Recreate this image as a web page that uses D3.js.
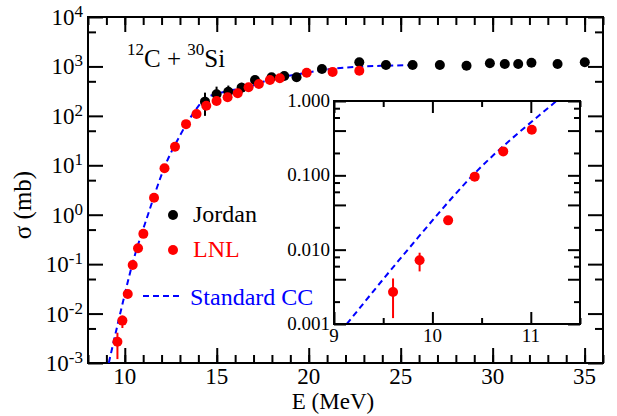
<!DOCTYPE html>
<html>
<head>
<meta charset="utf-8">
<script src="https://cdn.jsdelivr.net/npm/d3@7"></script>
<style>
  body { margin: 0; background: #fff; }
  text { font-family: "Liberation Serif", "Times New Roman", serif; }
</style>
</head>
<body>
<div id="chart"></div>
<script>
// ---- data ----
var jordanE = [14.36, 14.99, 15.63, 16.35, 17.08, 17.98, 18.67, 19.34, 20.72, 22.75,
               24.2, 25.65, 27.13, 28.58, 29.85, 30.66, 31.39, 32.11, 33.53, 35.01];
var jordanSigma = [194, 273, 308, 372, 531, 604, 640, 604, 887, 1211,
                   1070, 1070, 1070, 1035, 1156, 1120, 1120, 1190, 1120, 1210];
var jordanLo = [100, 175, 225, 290, null, null, null, null, null, null,
                null, null, null, null, null, null, null, null, null, null];
var jordanHi = [295, 390, 410, 470, null, null, null, null, null, null,
                null, null, null, null, null, null, null, null, null, null];

var lnlE = [9.6, 9.87, 10.16, 10.43, 10.72, 11.01, 11.59, 12.16, 12.73, 13.33, 13.9,
            14.43, 14.99, 15.59, 16.14, 16.73, 17.29, 17.89, 18.43, 19.89, 21.3, 22.75];
var lnlSigma = [0.0027, 0.0072, 0.0248, 0.096, 0.21, 0.41, 2.2, 8.7, 23.8, 68, 109,
                160, 200, 237, 286, 378, 442, 531, 575, 747, 775, 820];
var lnlLo = [0.0012, 0.0051, 0.022, null, null, null, null, null, null, null, null,
             null, null, null, null, null, null, null, null, null, null, null];
var lnlHi = [0.0041, 0.0091, 0.028, null, null, null, null, null, null, null, null,
             null, null, null, null, null, null, null, null, null, null, null];

var ccE = [9.13, 9.75, 10.41, 11.26, 12.2, 13.0, 13.63, 14.4, 15.5, 16.8, 18.0, 19.5, 21.0, 22.75, 24.2, 25.7];
var ccSigma = [0.001, 0.01, 0.1, 1.0, 10, 40, 100, 225, 310, 390, 560, 700, 870, 990, 1035, 1060];

var xMajor = [10, 15, 20, 25, 30, 35];
var xMinor = d3.range(8, 37, 1);
var yMajor = [1e-3, 1e-2, 1e-1, 1e0, 1e1, 1e2, 1e3, 1e4];
var yMajorExp = ["-3", "-2", "-1", "0", "1", "2", "3", "4"];
var yMinor = [5e-3, 5e-2, 5e-1, 5, 50, 500, 5000];

var insetXMajor = [9, 10, 11];
var insetXMinor = [9.5, 10.5, 11.5];
var insetYMajor = [0.001, 0.01, 0.1, 1];
var insetYLabels = ["0.001", "0.010", "0.100", "1.000"];
var insetYMid = [0.004, 0.04, 0.4];
var insetYMinor = [0.002, 0.006, 0.008, 0.02, 0.06, 0.08, 0.2, 0.6, 0.8];

// ---- layout ----
var W = 617, H = 416;
var margin = { top: 17, right: 14, bottom: 53, left: 88 },
    w = W - margin.left - margin.right,
    h = H - margin.top - margin.bottom;

var svg = d3.select("#chart").append("svg")
    .attr("width", W).attr("height", H);

var g = svg.append("g")
    .attr("transform", "translate(" + margin.left + "," + margin.top + ")");

var xScale = d3.scaleLinear().domain([8, 36]).range([0, w]);
var yScale = d3.scaleLog().domain([1e-3, 1e4]).range([h, 0]);

// draws inward ticks with a d3 axis, no labels
function tickSet(parent, axisFn, scale, values, size, tx, ty) {
    parent.append("g")
        .attr("transform", "translate(" + tx + "," + ty + ")")
        .call(axisFn(scale).tickValues(values).tickSize(size).tickFormat(""))
        .call(function(s) {
            s.select(".domain").remove();
            s.selectAll("line").attr("stroke", "#000").attr("stroke-width", 2);
        });
}

tickSet(g, d3.axisBottom, xScale, xMinor, -8, 0, h);
tickSet(g, d3.axisBottom, xScale, xMajor, -15, 0, h);
tickSet(g, d3.axisTop, xScale, xMinor, -8, 0, 0);
tickSet(g, d3.axisTop, xScale, xMajor, -15, 0, 0);
tickSet(g, d3.axisLeft, yScale, yMinor, -8, 0, 0);
tickSet(g, d3.axisLeft, yScale, yMajor, -15, 0, 0);
tickSet(g, d3.axisRight, yScale, yMinor, -8, w, 0);
tickSet(g, d3.axisRight, yScale, yMajor, -15, w, 0);

g.append("rect")
    .attr("width", w).attr("height", h)
    .attr("fill", "none").attr("stroke", "#000").attr("stroke-width", 2);

// tick labels
g.selectAll(".xlab").data(xMajor).enter().append("text")
    .attr("x", function(d) { return xScale(d); })
    .attr("y", h + 21)
    .attr("text-anchor", "middle")
    .attr("font-size", 23)
    .text(function(d) { return d; });

var yl = g.selectAll(".ylab").data(yMajor).enter().append("text")
    .attr("x", -5)
    .attr("y", function(d) { return yScale(d) + 8; })
    .attr("text-anchor", "end")
    .attr("font-size", 23);
yl.append("tspan").text("10");
yl.append("tspan").attr("dy", -8).attr("font-size", 17)
    .text(function(d, i) { return yMajorExp[i]; });

// axis titles
svg.append("text")
    .attr("x", 333).attr("y", 409)
    .attr("text-anchor", "middle").attr("font-size", 23)
    .text("E (MeV)");
svg.append("text")
    .attr("transform", "translate(31,205) rotate(-90)")
    .attr("text-anchor", "middle").attr("font-size", 25)
    .text("σ (mb)");

// reaction label
var title = svg.append("text").attr("x", 127).attr("y", 67).attr("font-size", 25);
title.append("tspan").attr("font-size", 17).attr("dy", -12).text("12");
title.append("tspan").attr("dy", 12).text("C + ");
title.append("tspan").attr("font-size", 17).attr("dy", -12).text("30");
title.append("tspan").attr("dy", 12).text("Si");

// clip for main plot
svg.append("clipPath").attr("id", "mainClip")
    .append("rect").attr("width", w).attr("height", h);

var line = d3.line()
    .x(function(d) { return xScale(d[0]); })
    .y(function(d) { return yScale(d[1]); })
    .curve(d3.curveMonotoneX);

var ccData = ccE.map(function(e, i) { return [e, ccSigma[i]]; });

g.append("path")
    .datum(ccData)
    .attr("clip-path", "url(#mainClip)")
    .attr("fill", "none").attr("stroke", "#0000ff")
    .attr("stroke-width", 2).attr("stroke-dasharray", "6,4")
    .attr("d", line);

function drawPoints(parent, xs, ys, es, sig, lo, hi, color, r) {
    var pts = es.map(function(e, i) { return { e: e, s: sig[i], lo: lo[i], hi: hi[i] }; });
    parent.selectAll(null).data(pts.filter(function(d) { return d.lo != null; }))
        .enter().append("line")
        .attr("x1", function(d) { return xs(d.e); })
        .attr("x2", function(d) { return xs(d.e); })
        .attr("y1", function(d) { return ys(d.lo); })
        .attr("y2", function(d) { return ys(d.hi); })
        .attr("stroke", color).attr("stroke-width", 2);
    parent.selectAll(null).data(pts)
        .enter().append("circle")
        .attr("cx", function(d) { return xs(d.e); })
        .attr("cy", function(d) { return ys(d.s); })
        .attr("r", r).attr("fill", color);
}

var mainPts = g.append("g").attr("clip-path", "url(#mainClip)");
drawPoints(mainPts, xScale, yScale, jordanE, jordanSigma, jordanLo, jordanHi, "#000", 5);
drawPoints(mainPts, xScale, yScale, lnlE, lnlSigma, lnlLo, lnlHi, "#ff0000", 5);

// legend
g.append("circle").attr("cx", 173 - margin.left).attr("cy", 215 - margin.top).attr("r", 5).attr("fill", "#000");
g.append("text").attr("x", 193 - margin.left).attr("y", 222 - margin.top)
    .attr("font-size", 24).text("Jordan");
g.append("circle").attr("cx", 173 - margin.left).attr("cy", 250 - margin.top).attr("r", 5).attr("fill", "#ff0000");
g.append("text").attr("x", 193 - margin.left).attr("y", 257 - margin.top)
    .attr("font-size", 24).attr("fill", "#ff0000").text("LNL");
g.append("line")
    .attr("x1", 143 - margin.left).attr("x2", 180 - margin.left)
    .attr("y1", 296 - margin.top).attr("y2", 296 - margin.top)
    .attr("stroke", "#0000ff").attr("stroke-width", 2).attr("stroke-dasharray", "6,4");
g.append("text").attr("x", 190 - margin.left).attr("y", 305 - margin.top)
    .attr("font-size", 24).attr("fill", "#0000ff").text("Standard CC");

// ---- inset ----
var inset = { left: 334, top: 101, w: 246, h: 223 };
var ig = svg.append("g").attr("transform", "translate(" + inset.left + "," + inset.top + ")");
var ix = d3.scaleLinear().domain([9, 11.5]).range([0, inset.w]);
var iy = d3.scaleLog().domain([0.001, 1]).range([inset.h, 0]);

ig.append("rect").attr("width", inset.w).attr("height", inset.h).attr("fill", "#fff");

svg.append("clipPath").attr("id", "insetClip")
    .append("rect").attr("width", inset.w).attr("height", inset.h);

var iline = d3.line()
    .x(function(d) { return ix(d[0]); })
    .y(function(d) { return iy(d[1]); })
    .curve(d3.curveMonotoneX);

ig.append("path")
    .datum(ccData)
    .attr("clip-path", "url(#insetClip)")
    .attr("fill", "none").attr("stroke", "#0000ff")
    .attr("stroke-width", 2).attr("stroke-dasharray", "6,4")
    .attr("d", iline);

var insetPts = ig.append("g").attr("clip-path", "url(#insetClip)");
drawPoints(insetPts, ix, iy, lnlE, lnlSigma, lnlLo, lnlHi, "#ff0000", 5);

tickSet(ig, d3.axisBottom, ix, insetXMinor, -6, 0, inset.h);
tickSet(ig, d3.axisBottom, ix, insetXMajor, -12, 0, inset.h);
tickSet(ig, d3.axisTop, ix, insetXMinor, -6, 0, 0);
tickSet(ig, d3.axisTop, ix, insetXMajor, -12, 0, 0);
tickSet(ig, d3.axisLeft, iy, insetYMinor, -6, 0, 0);
tickSet(ig, d3.axisLeft, iy, insetYMid.concat(insetYMajor), -12, 0, 0);
tickSet(ig, d3.axisRight, iy, insetYMinor, -6, inset.w, 0);
tickSet(ig, d3.axisRight, iy, insetYMid.concat(insetYMajor), -12, inset.w, 0);

ig.append("rect").attr("width", inset.w).attr("height", inset.h)
    .attr("fill", "none").attr("stroke", "#000").attr("stroke-width", 2);

ig.selectAll(".ixl").data(insetXMajor).enter().append("text")
    .attr("x", function(d) { return ix(d); })
    .attr("y", inset.h + 18)
    .attr("text-anchor", "middle").attr("font-size", 19)
    .text(function(d) { return d; });

ig.selectAll(".iyl").data(insetYMajor).enter().append("text")
    .attr("x", -4)
    .attr("y", function(d) { return iy(d) + 6; })
    .attr("text-anchor", "end").attr("font-size", 19)
    .text(function(d, i) { return insetYLabels[i]; });
</script>
</body>
</html>
